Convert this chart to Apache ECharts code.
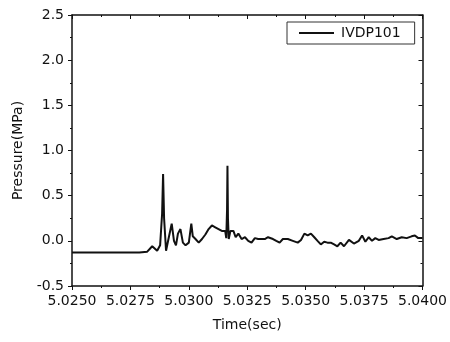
<!DOCTYPE html>
<html>
<head>
<meta charset="utf-8">
<script src="https://cdn.jsdelivr.net/npm/echarts@6/dist/echarts.min.js"></script>
<style>
  html, body { margin: 0; padding: 0; background: #fff; }
  #chart { width: 450px; height: 342px; }
</style>
</head>
<body>
<div id="chart"></div>
<script>
// time (sec) and pressure (MPa)
var times = [
  5.025000, 5.027881, 5.028220, 5.028432, 5.028644, 5.028771, 5.028856, 5.028898, 5.028941, 5.029025,
  5.029153, 5.029267, 5.029364, 5.029449, 5.029534, 5.029640, 5.029746, 5.029860, 5.030000, 5.030106,
  5.030169, 5.030284, 5.030424, 5.030564, 5.030708, 5.030847, 5.030987, 5.031131, 5.031271, 5.031411,
  5.031555, 5.031602, 5.031636, 5.031653, 5.031674, 5.031708, 5.031780, 5.031907, 5.032004, 5.032119,
  5.032258, 5.032403, 5.032542, 5.032682, 5.032826, 5.032966, 5.033106, 5.033250, 5.033390, 5.033602,
  5.033742, 5.033886, 5.034025, 5.034237, 5.034449, 5.034661, 5.034801, 5.034945, 5.035085, 5.035225,
  5.035369, 5.035508, 5.035648, 5.035792, 5.035932, 5.036072, 5.036216, 5.036356, 5.036496, 5.036640,
  5.036852, 5.037064, 5.037275, 5.037415, 5.037555, 5.037699, 5.037839, 5.037979, 5.038123, 5.038335,
  5.038547, 5.038686, 5.038898, 5.039110, 5.039322, 5.039534, 5.039674, 5.039818, 5.040000
];
var pressure = [
  -0.13, -0.13, -0.12, -0.06, -0.11, -0.05, 0.30, 0.74, 0.25, -0.11,
  0.05, 0.19, 0.00, -0.05, 0.08, 0.13, -0.02, -0.05, -0.02, 0.19,
  0.05, 0.02, -0.02, 0.02, 0.07, 0.13, 0.17, 0.15, 0.13, 0.11,
  0.11, 0.03, 0.35, 0.83, 0.25, 0.02, 0.11, 0.11, 0.04, 0.08,
  0.02, 0.04, 0.00, -0.02, 0.03, 0.02, 0.02, 0.02, 0.04, 0.02,
  0.00, -0.02, 0.02, 0.02, 0.00, -0.02, 0.01, 0.08, 0.06, 0.08,
  0.04, 0.00, -0.04, -0.01, -0.02, -0.02, -0.04, -0.06, -0.02, -0.06,
  0.01, -0.03, 0.00, 0.06, -0.01, 0.04, 0.00, 0.03, 0.01, 0.02,
  0.03, 0.05, 0.02, 0.04, 0.03, 0.05, 0.06, 0.03, 0.03
];
var xTicks = { min: 5.025, max: 5.04, step: 0.0025 };
var yTicks = { min: -0.5, max: 2.5, step: 0.5 };

var chart = echarts.init(document.getElementById('chart'));
var font = 'DejaVu Sans';
var axisLine = { show: true, onZero: false, lineStyle: { color: '#111', width: 1.5 } };

var seriesData = times.map(function (t, i) { return [t, pressure[i]]; });

chart.setOption({
  animation: false,
  backgroundColor: '#fff',
  grid: { left: 72, right: 24, top: 15, bottom: 56 },
  legend: {
    left: 287, top: 22,
    padding: [4, 14, 4, 12],
    itemWidth: 35, itemHeight: 2, itemGap: 0,
    icon: 'rect',
    borderColor: '#333', borderWidth: 1,
    textStyle: { fontFamily: font, fontSize: 14, color: '#111', padding: [0, 0, 0, 2] },
    data: ['IVDP101']
  },
  xAxis: [{
    type: 'value',
    min: xTicks.min, max: xTicks.max, interval: xTicks.step,
    name: 'Time(sec)', nameLocation: 'middle', nameGap: 32,
    nameTextStyle: { fontFamily: font, fontSize: 14, color: '#111' },
    axisLine: axisLine,
    axisTick: { show: true, inside: false, length: 4, lineStyle: { color: '#111' } },
    minorTick: { show: true, splitNumber: 2, length: 2, lineStyle: { color: '#111' } },
    splitLine: { show: false },
    axisLabel: { fontFamily: font, fontSize: 14, color: '#111', margin: 8,
      formatter: function (v) { return v.toFixed(4); } }
  }, {
    type: 'value', position: 'top',
    min: xTicks.min, max: xTicks.max, interval: xTicks.step,
    axisLine: axisLine,
    axisTick: { show: true, inside: true, length: 4, lineStyle: { color: '#111' } },
    minorTick: { show: true, splitNumber: 2, length: 2, lineStyle: { color: '#111' } },
    splitLine: { show: false },
    axisLabel: { show: false }
  }],
  yAxis: [{
    type: 'value',
    min: yTicks.min, max: yTicks.max, interval: yTicks.step,
    name: 'Pressure(MPa)', nameLocation: 'middle', nameGap: 36,
    nameTextStyle: { fontFamily: font, fontSize: 14, color: '#111' },
    axisLine: axisLine,
    axisTick: { show: true, inside: false, length: 4, lineStyle: { color: '#111' } },
    minorTick: { show: true, splitNumber: 2, length: 2, lineStyle: { color: '#111' } },
    splitLine: { show: false },
    axisLabel: { fontFamily: font, fontSize: 14, color: '#111', margin: 8,
      formatter: function (v) { return v.toFixed(1); } }
  }, {
    type: 'value', position: 'right',
    min: yTicks.min, max: yTicks.max, interval: yTicks.step,
    axisLine: axisLine,
    axisTick: { show: true, inside: true, length: 4, lineStyle: { color: '#111' } },
    minorTick: { show: true, splitNumber: 2, length: 2, lineStyle: { color: '#111' } },
    splitLine: { show: false },
    axisLabel: { show: false }
  }],
  series: [{
    name: 'IVDP101',
    type: 'line',
    xAxisIndex: 0, yAxisIndex: 0,
    showSymbol: false,
    color: '#111',
    lineStyle: { width: 2, color: '#111' },
    data: seriesData
  }]
});
</script>
</body>
</html>
